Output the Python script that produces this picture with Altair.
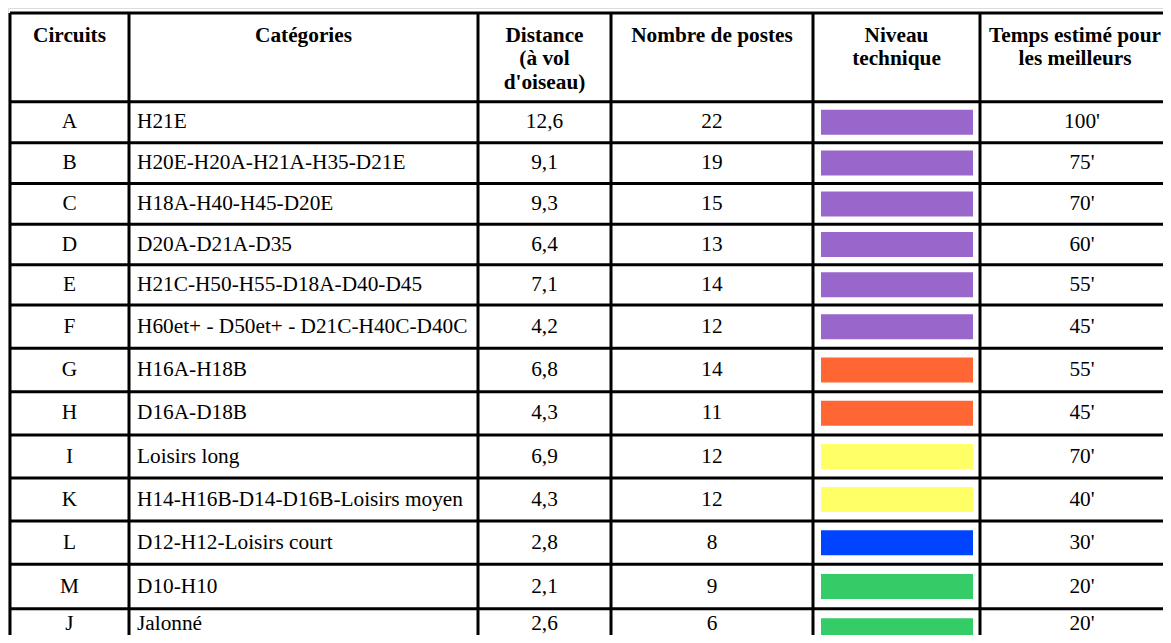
import altair as alt
import pandas as pd

# ---------------- data ----------------
circuits = ["A", "B", "C", "D", "E", "F", "G", "H", "I", "K", "L", "M", "J"]
categories = [
    "H21E",
    "H20E-H20A-H21A-H35-D21E",
    "H18A-H40-H45-D20E",
    "D20A-D21A-D35",
    "H21C-H50-H55-D18A-D40-D45",
    "H60et+ - D50et+ - D21C-H40C-D40C",
    "H16A-H18B",
    "D16A-D18B",
    "Loisirs long",
    "H14-H16B-D14-D16B-Loisirs moyen",
    "D12-H12-Loisirs court",
    "D10-H10",
    "Jalonné",
]
distances = ["12,6", "9,1", "9,3", "6,4", "7,1", "4,2", "6,8", "4,3", "6,9", "4,3", "2,8", "2,1", "2,6"]
postes = [22, 19, 15, 13, 14, 12, 14, 11, 12, 12, 8, 9, 6]
niveaux = ["violet", "violet", "violet", "violet", "violet", "violet",
           "orange", "orange", "jaune", "jaune", "bleu", "vert", "vert"]
temps = ["100'", "75'", "70'", "60'", "55'", "45'", "55'", "45'", "70'", "40'", "30'", "20'", "20'"]
headers = [
    "Circuits",
    "Catégories",
    "Distance\n(à vol\nd'oiseau)",
    "Nombre de postes",
    "Niveau\ntechnique",
    "Temps estimé pour\nles meilleurs",
]

# ---------------- layout (styles) ----------------
W, H = 1155, 627          # view size (page minus margins)
OFF = 8                   # page margin
col_edges = [10, 129, 478, 611, 813, 980, 1184]
row_edges = [13, 101.7, 142.7, 183.5, 224.3, 264.7, 305, 348.3, 391.7,
             435, 478, 521, 564.3, 608.7, 653]
niveau_colors = {"violet": "#9966CC", "orange": "#FF6633", "jaune": "#FFFF66",
                 "bleu": "#0044FF", "vert": "#33CC66"}
FONT = "Liberation Serif"
FS = 21.3
TEXT_MAX_Y = 624          # keep last row's text inside the visible page
HDR_SHIFT = [0, 0, 0, 0, 0, -7]   # keep the last header inside the page

xs = alt.Scale(domain=[0, W], range=[0, W])
ys = alt.Scale(domain=[H, 0])

def px(v):
    return v - OFF

# grid lines
lines = []
for cx in col_edges:
    lines.append({"x": px(cx), "x2": px(cx), "y": px(row_edges[0]), "y2": px(row_edges[-1])})
for ry in row_edges:
    lines.append({"x": px(col_edges[0]), "x2": px(col_edges[-1]), "y": px(ry), "y2": px(ry)})
lines_df = pd.DataFrame(lines)

grid = alt.Chart(lines_df).mark_rule(color="#000000", strokeWidth=3, clip=True).encode(
    x=alt.X("x:Q", scale=xs, axis=None),
    x2="x2:Q",
    y=alt.Y("y:Q", scale=ys, axis=None),
    y2="y2:Q",
)

# header text
centers = [(col_edges[i] + col_edges[i + 1]) / 2 for i in range(6)]
hdr_df = pd.DataFrame({
    "x": [px(c + s) for c, s in zip(centers, HDR_SHIFT)],
    "y": [px(41.7)] * 6,
    "t": headers,
})
hdr = alt.Chart(hdr_df).mark_text(
    font=FONT, fontSize=FS, fontWeight="bold", align="center",
    baseline="alphabetic", lineBreak="\n", lineHeight=23.5, color="#000000", clip=True,
).encode(
    x=alt.X("x:Q", scale=xs, axis=None),
    y=alt.Y("y:Q", scale=ys, axis=None),
    text="t:N",
)

# body
rows = []
for i in range(len(circuits)):
    yc = (row_edges[i + 1] + row_edges[i + 2]) / 2
    rows.append({
        "yc": px(min(yc, TEXT_MAX_Y)),
        "circuit": circuits[i],
        "cat": categories[i],
        "dist": distances[i],
        "postes": str(postes[i]),
        "niveau": niveaux[i],
        "temps": temps[i],
        "bx": px(col_edges[4] + 8),
        "bx2": px(col_edges[5] - 7),
        "by": px(yc - 12.5),
        "by2": px(yc + 12.5),
    })
body_df = pd.DataFrame(rows)

def center_text(field, col):
    return alt.Chart(body_df).mark_text(
        font=FONT, fontSize=FS, align="center", baseline="middle",
        color="#000000", clip=True,
    ).encode(
        x=alt.X("xx:Q", scale=xs, axis=None),
        y=alt.Y("yc:Q", scale=ys, axis=None),
        text=f"{field}:N",
    ).transform_calculate(xx=str(px(centers[col])))

t_circ = center_text("circuit", 0)
t_dist = center_text("dist", 2)
t_post = center_text("postes", 3)
t_temps = center_text("temps", 5)

t_cat = alt.Chart(body_df).mark_text(
    font=FONT, fontSize=FS, align="left", baseline="middle",
    color="#000000", clip=True,
).encode(
    x=alt.X("xx:Q", scale=xs, axis=None),
    y=alt.Y("yc:Q", scale=ys, axis=None),
    text="cat:N",
).transform_calculate(xx=str(px(col_edges[1] + 8)))

bars = alt.Chart(body_df).mark_rect(clip=True).encode(
    x=alt.X("bx:Q", scale=xs, axis=None),
    x2="bx2:Q",
    y=alt.Y("by:Q", scale=ys, axis=None),
    y2="by2:Q",
    color=alt.Color("niveau:N", legend=None,
                    scale=alt.Scale(domain=list(niveau_colors.keys()),
                                    range=list(niveau_colors.values()))),
)

chart = alt.layer(bars, grid, hdr, t_circ, t_cat, t_dist, t_post, t_temps).properties(
    width=W, height=H, autosize="none", padding=0,
).configure_view(stroke=None).configure(background="#ffffff")

chart.save("out.html", embed_options={"renderer": "svg", "actions": False})
